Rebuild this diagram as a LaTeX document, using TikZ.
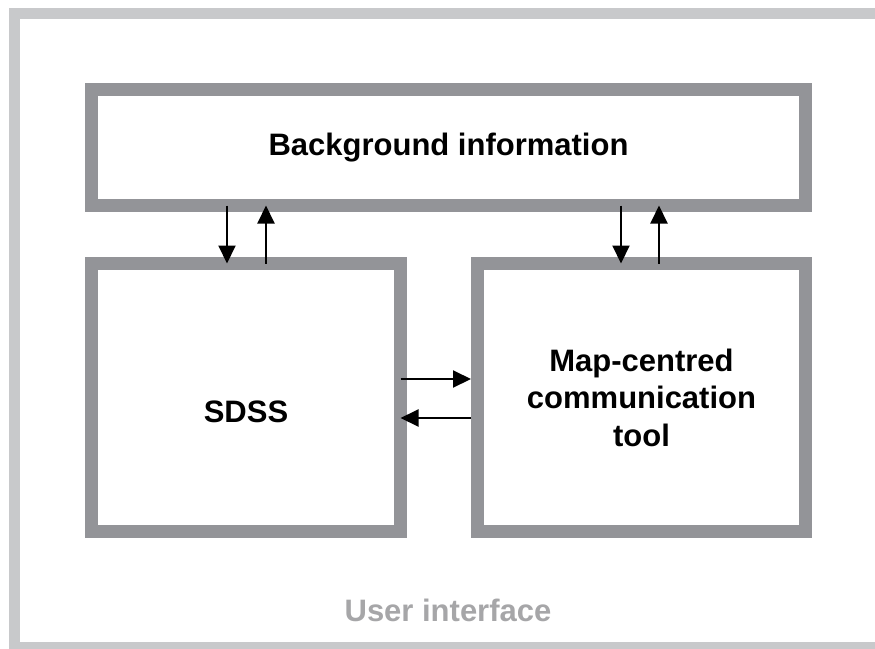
\documentclass[tikz,border=0pt]{standalone}
\usepackage{fontspec}
\setmainfont{Liberation Sans}
\definecolor{frame}{RGB}{200,201,203}
\definecolor{panel}{RGB}{147,148,152}
\definecolor{faint}{RGB}{166,166,168}
\usetikzlibrary{arrows.meta}

\begin{document}
\begin{tikzpicture}[x=1pt, y=-1pt,
    box/.style={draw=panel, line width=13pt, outer sep=0pt, fill=white},
    heading/.style={font=\fontsize{31}{37.5}\selectfont\bfseries, align=center},
    flow/.style={-{Triangle[length=18pt,width=17pt]}, line width=2pt, black}]
  \useasboundingbox (0,0) rectangle (875,648);
  \clip (0,0) rectangle (875,648);

  % outer frame runs off the page at right and bottom
  \draw[frame, line width=11pt] (14.5,13) rectangle (900,647.5);
  \node[heading, text=faint] (ui) at (448,610) {User interface};

  \node[box, heading, minimum width=714pt, minimum height=116pt] (bg) at (448.5,147.5) {Background information};
  \node[box, minimum width=309pt, minimum height=268pt] (sdss) at (246,397.5) {};
  \node[heading] (sdsstxt) at (246,412) {SDSS};
  \node[box, heading, minimum width=328pt, minimum height=268pt] (map) at (641.5,397.5)
    {Map-centred\\communication\\tool};

  % vertical exchange with the background box
  \draw[flow] ([xshift=-19pt]bg.south -| sdss.north) -- ([xshift=-19pt]sdss.north);
  \draw[flow] ([xshift=20pt]sdss.north) -- ([xshift=20pt]bg.south -| sdss.north);
  \draw[flow] ([xshift=-20.5pt]bg.south -| map.north) -- ([xshift=-20.5pt]map.north);
  \draw[flow] ([xshift=17.5pt]map.north) -- ([xshift=17.5pt]bg.south -| map.north);

  % horizontal exchange
  \draw[flow, shorten >=6.5pt] ([yshift=18.5pt]sdss.east) -- ([yshift=18.5pt]sdss.east -| map.west);
  \draw[flow, shorten <=6.5pt] ([yshift=-20.5pt]sdss.east -| map.west) -- ([yshift=-20.5pt]sdss.east);
\end{tikzpicture}
\end{document}
